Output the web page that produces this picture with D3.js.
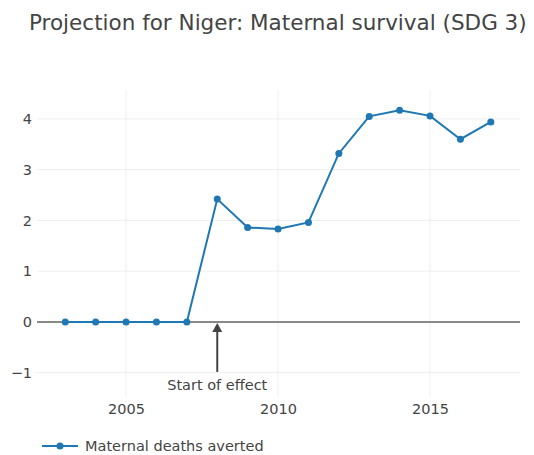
<!DOCTYPE html>
<html><head><meta charset="utf-8">
<script src="https://cdn.jsdelivr.net/npm/d3@7"></script>
<style>body{margin:0;background:#fff;} svg{display:block;}</style>
</head><body>
<svg id="c" width="534" height="455"></svg>
<script>
const years = [2003,2004,2005,2006,2007,2008,2009,2010,2011,2012,2013,2014,2015,2016,2017];
const averted = [0,0,0,0,0,2.42,1.86,1.83,1.96,3.32,4.05,4.17,4.06,3.60,3.94];
const xTicks = [2005,2010,2015];
const yTicks = [-1,0,1,2,3,4];
const titleText = "Projection for Niger: Maternal survival (SDG 3)";
const seriesName = "Maternal deaths averted";
const annotation = {x:2008, text:"Start of effect"};

const font = "'DejaVu Sans', Verdana, sans-serif";
const fs = 14.5;
const svg = d3.select("#c");
const L=37, R=520, T=90, B=397;
const x = d3.scaleLinear().domain([2002.07,2017.96]).range([L,R]);
const y = d3.scaleLinear().domain([-1.48,4.57]).range([B,T]);

// gridlines
svg.append("g").selectAll("line").data(xTicks).join("line")
  .attr("x1",d=>x(d)).attr("x2",d=>x(d)).attr("y1",T).attr("y2",B)
  .attr("stroke","#eee").attr("stroke-width",1);
svg.append("g").selectAll("line").data(yTicks.filter(d=>d!==0)).join("line")
  .attr("x1",L).attr("x2",R).attr("y1",d=>y(d)).attr("y2",d=>y(d))
  .attr("stroke","#eee").attr("stroke-width",1);
// zero line
svg.append("line").attr("x1",L).attr("x2",R).attr("y1",y(0)).attr("y2",y(0))
  .attr("stroke","#888").attr("stroke-width",2);

// axes
const xAxis = d3.axisBottom(x).tickValues(xTicks).tickSize(0).tickFormat(d3.format("d"));
const gx = svg.append("g").attr("transform",`translate(0,${B})`).call(xAxis);
gx.select(".domain").remove();
gx.selectAll("text").attr("dy","0.95em").attr("font-family",font).attr("font-size",fs).attr("fill","#444");
const yAxis = d3.axisLeft(y).tickValues(yTicks).tickSize(0).tickFormat(d=>d<0?"\u2212"+Math.abs(d):d);
const gy = svg.append("g").attr("transform",`translate(${L-2},0)`).call(yAxis);
gy.select(".domain").remove();
gy.selectAll("text").attr("font-family",font).attr("font-size",fs).attr("fill","#444");

// line
const color="#1f77b4";
const pts = years.map((d,i)=>[d,averted[i]]);
svg.append("path").datum(pts)
  .attr("d",d3.line().x(d=>x(d[0])).y(d=>y(d[1])))
  .attr("fill","none").attr("stroke",color).attr("stroke-width",2);
svg.append("g").selectAll("circle").data(pts).join("circle")
  .attr("cx",d=>x(d[0])).attr("cy",d=>y(d[1])).attr("r",3.5).attr("fill",color);

// annotation arrow
const ax = x(annotation.x), ay = y(0)+1;
const tailY = ay+49;
svg.append("line").attr("x1",ax).attr("x2",ax).attr("y1",ay+8).attr("y2",tailY)
  .attr("stroke","#444").attr("stroke-width",2);
svg.append("path").attr("d",`M${ax},${ay} L${ax-5},${ay+9} L${ax+5},${ay+9} Z`).attr("fill","#444");
svg.append("text").attr("x",ax).attr("y",tailY+18).attr("text-anchor","middle")
  .attr("font-family",font).attr("font-size",fs).attr("fill","#444").text(annotation.text);

// title
svg.append("text").attr("x",29).attr("y",30).attr("font-family",font).attr("font-size",21.5)
  .attr("fill","#444").text(titleText);

// legend
svg.append("line").attr("x1",42).attr("x2",78).attr("y1",446).attr("y2",446).attr("stroke",color).attr("stroke-width",2);
svg.append("circle").attr("cx",60).attr("cy",446).attr("r",3.5).attr("fill",color);
svg.append("text").attr("x",85).attr("y",451).attr("font-family",font).attr("font-size",fs)
  .attr("fill","#444").text(seriesName);
</script>
</body></html>
